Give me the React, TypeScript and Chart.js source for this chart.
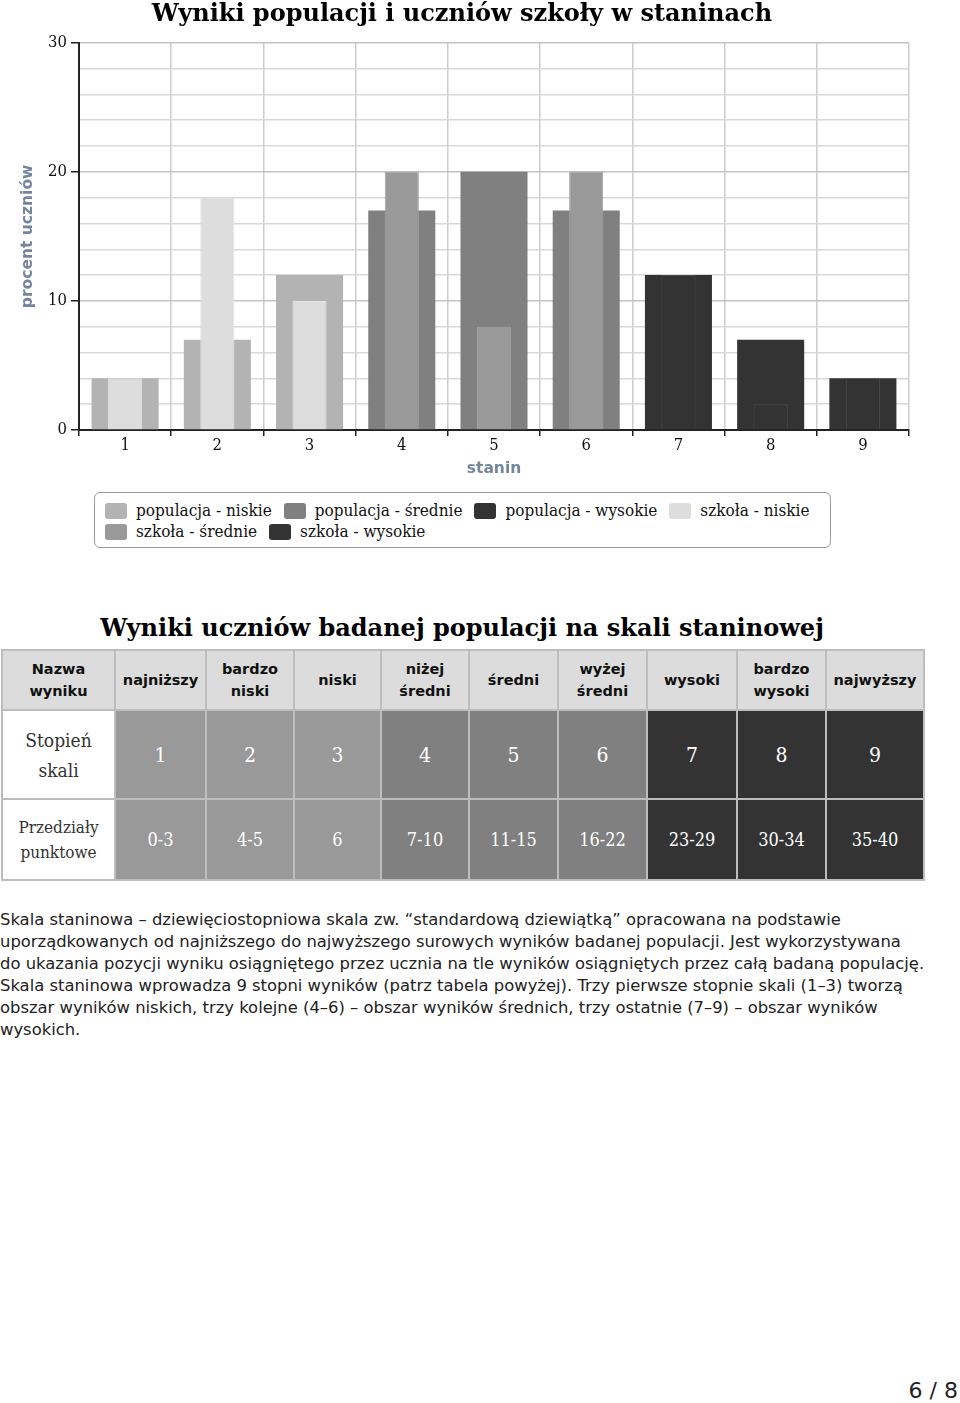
import React, { useEffect, useRef } from 'react';
import { Chart, registerables } from 'chart.js';

Chart.register(...registerables);

// ---------- data ----------
const chartTitle = 'Wyniki populacji i uczniów szkoły w staninach';
const categories = ['1', '2', '3', '4', '5', '6', '7', '8', '9'];
const popNiskie = [4, 7, 12, null, null, null, null, null, null];
const popSrednie = [null, null, null, 17, 20, 17, null, null, null];
const popWysokie = [null, null, null, null, null, null, 12, 7, 4];
const szkNiskie = [4, 18, 10, null, null, null, null, null, null];
const szkSrednie = [null, null, null, 20, 8, 20, null, null, null];
const szkWysokie = [null, null, null, null, null, null, 12, 2, 4];
const seriesLabels = [
  'populacja - niskie',
  'populacja - średnie',
  'populacja - wysokie',
  'szkoła - niskie',
  'szkoła - średnie',
  'szkoła - wysokie',
];
const yTitle = 'procent uczniów';
const xTitle = 'stanin';

const tableTitle = 'Wyniki uczniów badanej populacji na skali staninowej';
const rowHeaderNames = ['Nazwa\nwyniku', 'Stopień\nskali', 'Przedziały\npunktowe'];
const resultNames = ['najniższy', 'bardzo\nniski', 'niski', 'niżej\nśredni', 'średni', 'wyżej\nśredni', 'wysoki', 'bardzo\nwysoki', 'najwyższy'];
const stanines = ['1', '2', '3', '4', '5', '6', '7', '8', '9'];
const pointRanges = ['0-3', '4-5', '6', '7-10', '11-15', '16-22', '23-29', '30-34', '35-40'];

const paragraphLines = [
  'Skala staninowa – dziewięciostopniowa skala zw. “standardową dziewiątką” opracowana na podstawie',
  'uporządkowanych od najniższego do najwyższego surowych wyników badanej populacji. Jest wykorzystywana',
  'do ukazania pozycji wyniku osiągniętego przez ucznia na tle wyników osiągniętych przez całą badaną populację.',
  'Skala staninowa wprowadza 9 stopni wyników (patrz tabela powyżej). Trzy pierwsze stopnie skali (1–3) tworzą',
  'obszar wyników niskich, trzy kolejne (4–6) – obszar wyników średnich, trzy ostatnie (7–9) – obszar wyników',
  'wysokich.',
];
const pageLabel = '6 / 8';

// ---------- styles ----------
const seriesColors = ['#b3b3b3', '#808080', '#333333', '#dddddd', '#999999', '#333333'];
const seriesBorders = ['#b3b3b3', '#808080', '#333333', '#e2e2e2', '#a2a2a2', '#4a4a4a'];
const cellColors = ['#999999', '#999999', '#999999', '#808080', '#808080', '#808080', '#333333', '#333333', '#333333'];
const SERIF_C = "'DejaVu Serif Condensed', 'DejaVu Serif', serif";
const SANS = "'DejaVu Sans', sans-serif";

export default function App() {
  const ref = useRef<HTMLCanvasElement>(null);

  useEffect(() => {
    const seriesData = [popNiskie, popSrednie, popWysokie, szkNiskie, szkSrednie, szkWysokie];
    const chart = new Chart(ref.current as HTMLCanvasElement, {
      type: 'bar',
      data: {
        labels: categories,
        datasets: seriesData.map((d, i) => ({
          label: seriesLabels[i],
          data: d,
          backgroundColor: seriesColors[i],
          borderColor: seriesBorders[i],
          borderWidth: i < 3 ? 0 : 1,
          grouped: false,
          categoryPercentage: 1,
          barPercentage: i < 3 ? 0.727 : 0.37,
          order: i < 3 ? 2 : 1,
        })),
      },
      options: {
        responsive: false,
        animation: false,
        layout: { padding: { left: 15, right: 51, top: 0, bottom: 0 } },
        plugins: {
          legend: { display: false },
          tooltip: { enabled: false },
          title: {
            display: true,
            text: chartTitle,
            color: '#000',
            font: { family: "'DejaVu Serif', serif", size: 24, weight: 'bold' },
            padding: { top: 0, bottom: 14 },
          },
        },
        scales: {
          x: {
            grid: { color: '#cccccc', lineWidth: 1.5, tickLength: 6, tickColor: '#222', tickWidth: 1.5 },
            border: { color: '#222', width: 2 },
            ticks: { color: '#111', font: { family: SERIF_C, size: 16.5 }, padding: 0 },
            title: {
              display: true,
              text: xTitle,
              color: '#74869e',
              font: { family: SANS, size: 15.5, weight: 'bold' },
              padding: { top: 0, bottom: 2 },
            },
            afterFit: (s: any) => { s.height = 50; },
          },
          y: {
            min: 0,
            max: 30,
            grid: {
              color: (c: any) => (c.tick && c.tick.value % 10 === 0 ? '#c4c4c4' : '#d8d8d8'),
              lineWidth: 1.5,
              tickLength: 8,
              tickColor: (c: any) => (c.tick && c.tick.value % 10 === 0 ? '#222' : 'rgba(0,0,0,0)'),
              tickWidth: 1.5,
            },
            border: { color: '#222', width: 2 },
            ticks: {
              stepSize: 2,
              color: '#111',
              padding: 4,
              font: { family: SERIF_C, size: 16.5 },
              callback: (v: any) => (Number(v) % 10 === 0 ? String(v) : ''),
            },
            title: {
              display: true,
              text: yTitle,
              color: '#74869e',
              font: { family: SANS, size: 15.5, weight: 'bold' },
              padding: { top: 4, bottom: 0 },
            },
            afterFit: (s: any) => { s.width = 64; },
          },
        },
      },
    } as any);
    return () => chart.destroy();
  }, []);

  const cellBorder = '2px solid #bdbdbd';

  return (
    <div style={{ position: 'absolute', left: 0, top: 0, width: 960, height: 1403, background: '#fff', overflow: 'hidden' }}>
      <canvas ref={ref} width={960} height={480} style={{ position: 'absolute', left: 0, top: 0, width: 960, height: 480 }} />

      {/* legend */}
      <div
        style={{
          position: 'absolute', left: 94, top: 492, width: 737, height: 56, boxSizing: 'border-box',
          border: '1.5px solid #9a9a9a', borderRadius: 6, padding: '7px 0 0 10px',
          display: 'flex', flexWrap: 'wrap', alignContent: 'flex-start',
          fontFamily: SERIF_C, fontSize: 17, lineHeight: '21px', color: '#111',
        }}
      >
        {seriesLabels.map((l, i) => (
          <div key={l} style={{ display: 'flex', alignItems: 'center', marginRight: 12, height: 21 }}>
            <span style={{ display: 'inline-block', width: 22, height: 16, borderRadius: 3, background: seriesColors[i], marginRight: 9 }} />
            <span style={{ whiteSpace: 'nowrap' }}>{l}</span>
          </div>
        ))}
      </div>

      {/* table title */}
      <div style={{ position: 'absolute', left: 0, top: 614, width: 924, textAlign: 'center', fontFamily: "'DejaVu Serif', serif", fontWeight: 'bold', fontSize: 24, lineHeight: '28px', color: '#000' }}>
        {tableTitle}
      </div>

      {/* table */}
      <table style={{ position: 'absolute', left: 1, top: 649, width: 922, borderCollapse: 'collapse', tableLayout: 'fixed' }}>
        <colgroup>
          {[113, 91, 88, 87, 88, 89, 89, 90, 89, 98].map((w, i) => <col key={i} style={{ width: w }} />)}
        </colgroup>
        <tbody>
          <tr style={{ height: 60 }}>
            <td style={{ border: cellBorder, background: '#dcdcdc', textAlign: 'center', fontFamily: SANS, fontWeight: 'bold', fontSize: 14.5, lineHeight: '22px', color: '#111', whiteSpace: 'pre-line', padding: 0 }}>{rowHeaderNames[0]}</td>
            {resultNames.map((n) => (
              <td key={n} style={{ border: cellBorder, background: '#dcdcdc', textAlign: 'center', fontFamily: SANS, fontWeight: 'bold', fontSize: 14.5, lineHeight: '22px', color: '#111', whiteSpace: 'pre-line', padding: 0 }}>{n}</td>
            ))}
          </tr>
          <tr style={{ height: 89 }}>
            <td style={{ border: cellBorder, background: '#fff', textAlign: 'center', fontFamily: SERIF_C, fontSize: 19, lineHeight: '30px', color: '#333', whiteSpace: 'pre-line', padding: 0 }}>{rowHeaderNames[1]}</td>
            {stanines.map((s, i) => (
              <td key={s} style={{ border: cellBorder, background: cellColors[i], textAlign: 'center', fontFamily: SERIF_C, fontSize: 21, color: '#fff', padding: 0 }}>{s}</td>
            ))}
          </tr>
          <tr style={{ height: 81 }}>
            <td style={{ border: cellBorder, background: '#fff', textAlign: 'center', fontFamily: SERIF_C, fontSize: 17, lineHeight: '25px', color: '#333', whiteSpace: 'pre-line', padding: 0 }}>{rowHeaderNames[2]}</td>
            {pointRanges.map((r, i) => (
              <td key={r} style={{ border: cellBorder, background: cellColors[i], textAlign: 'center', fontFamily: SERIF_C, fontSize: 18, color: '#fff', padding: 0 }}>{r}</td>
            ))}
          </tr>
        </tbody>
      </table>

      {/* paragraph */}
      <div style={{ position: 'absolute', left: 0, top: 909, fontFamily: SANS, fontSize: 16.4, lineHeight: '22px', color: '#222' }}>
        {paragraphLines.map((l, i) => (
          <div key={i} style={{ whiteSpace: 'nowrap' }}>{l}</div>
        ))}
      </div>

      {/* page number */}
      <div style={{ position: 'absolute', right: 2, top: 1378, fontFamily: SANS, fontSize: 22, lineHeight: '26px', color: '#222' }}>{pageLabel}</div>
    </div>
  );
}
